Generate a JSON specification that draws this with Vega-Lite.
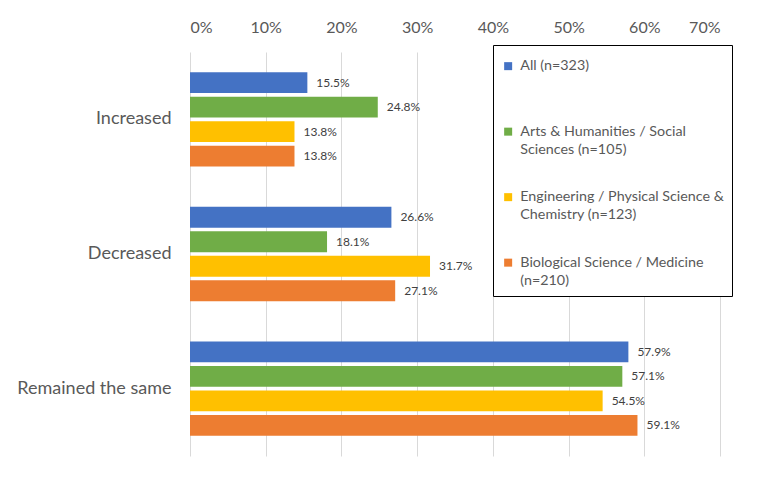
{
  "$schema": "https://vega.github.io/schema/vega-lite/v6.json",
  "width": 530,
  "height": 404,
  "autosize": {"type": "none"},
  "padding": {"left": 190, "top": 52, "right": 42, "bottom": 27},
  "background": "white",
  "config": {
    "font": "Lato",
    "view": {"stroke": null},
    "axis": {"labelFont": "Lato", "labelColor": "#595959"},
    "style": {"guide-label": {"lineHeight": 18}}
  },
  "data": {
    "values": [
      {"change": "Increased", "group": "All (n=323)", "value": 0.155},
      {"change": "Increased", "group": "Arts & Humanities / Social Sciences (n=105)", "value": 0.248},
      {"change": "Increased", "group": "Engineering / Physical Science & Chemistry (n=123)", "value": 0.138},
      {"change": "Increased", "group": "Biological Science / Medicine (n=210)", "value": 0.138},
      {"change": "Decreased", "group": "All (n=323)", "value": 0.266},
      {"change": "Decreased", "group": "Arts & Humanities / Social Sciences (n=105)", "value": 0.181},
      {"change": "Decreased", "group": "Engineering / Physical Science & Chemistry (n=123)", "value": 0.317},
      {"change": "Decreased", "group": "Biological Science / Medicine (n=210)", "value": 0.271},
      {"change": "Remained the same", "group": "All (n=323)", "value": 0.579},
      {"change": "Remained the same", "group": "Arts & Humanities / Social Sciences (n=105)", "value": 0.571},
      {"change": "Remained the same", "group": "Engineering / Physical Science & Chemistry (n=123)", "value": 0.545},
      {"change": "Remained the same", "group": "Biological Science / Medicine (n=210)", "value": 0.591}
    ]
  },
  "encoding": {
    "y": {
      "field": "change", "type": "nominal", "sort": ["Increased", "Decreased", "Remained the same"],
      "scale": {"paddingInner": 0.3, "paddingOuter": 0.15},
      "axis": {"title": null, "domain": false, "ticks": false, "labelFontSize": 18, "labelPadding": 19}
    },
    "yOffset": {
      "field": "group", "type": "nominal",
      "sort": ["All (n=323)", "Arts & Humanities / Social Sciences (n=105)", "Engineering / Physical Science & Chemistry (n=123)", "Biological Science / Medicine (n=210)"],
      "scale": {"paddingInner": 0.15, "paddingOuter": 0}
    },
    "x": {
      "field": "value", "type": "quantitative",
      "scale": {"domain": [0, 0.7], "nice": false},
      "axis": {"orient": "top", "title": null, "format": "%", "values": [0, 0.1, 0.2, 0.3, 0.4, 0.5, 0.6, 0.7],
        "domain": false, "ticks": false, "labelFontSize": 16, "labelPadding": 17, "gridColor": "#d9d9d9", "gridWidth": 1}
    }
  },
  "layer": [
    {
      "mark": {"type": "bar"},
      "encoding": {
        "color": {
          "field": "group", "type": "nominal",
          "sort": ["All (n=323)", "Arts & Humanities / Social Sciences (n=105)", "Engineering / Physical Science & Chemistry (n=123)", "Biological Science / Medicine (n=210)"],
          "scale": {"range": ["#4472C4", "#70AD47", "#FFC000", "#ED7D31"]},
          "legend": {
            "title": " ", "titleFontSize": 4, "titlePadding": 2,
            "orient": "none", "legendX": 303, "legendY": -7,
            "direction": "vertical",
            "strokeColor": "black", "fillColor": "white", "padding": 8,
            "symbolType": "square", "symbolSize": 64, "symbolStrokeWidth": 0,
            "labelFont": "Lato", "labelFontSize": 14.3, "labelColor": "#595959", "labelLimit": 400,
            "labelOffset": 5, "rowPadding": 32.5,
            "labelExpr": "datum.label == 'All (n=323)' ? ['All (n=323)', ''] : datum.label == 'Arts & Humanities / Social Sciences (n=105)' ? ['Arts & Humanities / Social', 'Sciences (n=105)'] : datum.label == 'Engineering / Physical Science & Chemistry (n=123)' ? ['Engineering / Physical Science &', 'Chemistry (n=123)'] : ['Biological Science / Medicine', '(n=210)']"
          }
        }
      }
    },
    {
      "mark": {"type": "text", "align": "left", "dx": 9, "fontSize": 12, "color": "#404040", "font": "Lato"},
      "encoding": {
        "text": {"field": "value", "type": "quantitative", "format": ".1%"}
      }
    }
  ]
}
